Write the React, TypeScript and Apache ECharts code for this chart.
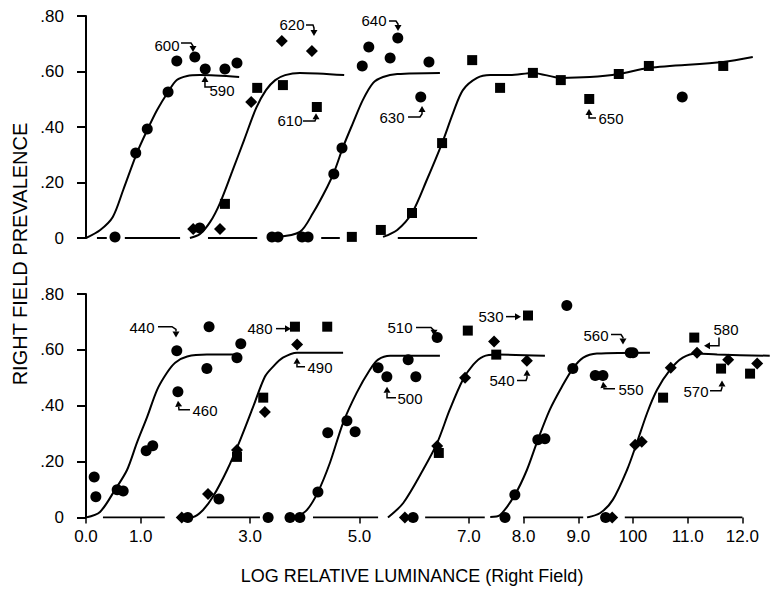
import React, { useEffect, useRef } from "react";
import * as echarts from "echarts";

// ---------- axis ticks ----------
const tickValues = [0, 1, 3, 5, 7, 8, 9, 10, 11, 12];
const tickLabels = ["0.0", "1.0", "3.0", "5.0", "7.0", "8.0", "9.0", "100", "11.0", "12.0"];

// ---------- top panel ----------
const topCurveA = [[0, 0], [0.26, 0.029], [0.49, 0.076], [0.68, 0.173], [0.93, 0.306], [1.12, 0.389], [1.3, 0.461], [1.5, 0.526], [1.66, 0.569], [1.85, 0.584], [2.08, 0.587], [2.8, 0.58]];
const topCurveB = [[1.9, 0], [2.08, 0.014], [2.27, 0.058], [2.45, 0.126], [2.67, 0.238], [2.89, 0.353], [3.11, 0.468], [3.29, 0.533], [3.46, 0.569], [3.64, 0.587], [3.91, 0.595], [4.72, 0.587]];
const topCurveC = [[3.49, 0.004], [3.91, 0.022], [4.15, 0.09], [4.41, 0.184], [4.55, 0.245], [4.7, 0.328], [4.88, 0.414], [5.06, 0.497], [5.25, 0.559], [5.43, 0.58], [5.69, 0.591], [6.47, 0.595]];
const topCurveD = [[5.43, 0.004], [5.69, 0.029], [5.96, 0.09], [6.23, 0.209], [6.51, 0.342], [6.71, 0.45], [6.89, 0.533], [7.15, 0.577], [7.39, 0.587], [7.75, 0.587], [8.17, 0.595], [8.68, 0.577], [9.21, 0.58], [9.74, 0.591], [10.29, 0.613], [11.65, 0.634], [12.19, 0.652]];

const topCircles = [[0.53, 0.004], [0.91, 0.306], [1.12, 0.393], [1.5, 0.526], [1.66, 0.638], [1.99, 0.652], [2.18, 0.609], [2.54, 0.609], [2.76, 0.631], [2.08, 0.036], [3.4, 0.004], [3.51, 0.004], [3.95, 0.004], [4.06, 0.004], [4.53, 0.231], [4.68, 0.324], [5.05, 0.62], [5.17, 0.688], [5.56, 0.649], [5.7, 0.721], [6.12, 0.508], [6.27, 0.634], [10.9, 0.508]];
const topDiamonds = [[1.96, 0.032], [2.45, 0.032], [3.02, 0.49], [3.58, 0.71], [4.13, 0.674]];
const topSquares = [[2.54, 0.123], [3.13, 0.541], [3.6, 0.551], [4.22, 0.472], [4.86, 0.004], [5.39, 0.029], [5.96, 0.09], [6.51, 0.342], [7.06, 0.641], [7.57, 0.541], [8.17, 0.595], [8.68, 0.569], [9.2, 0.501], [9.74, 0.591], [10.29, 0.62], [11.65, 0.62]];
const topBaseline = [[0.2, 0.38], [0.71, 1.72], [2.23, 3.13], [4.3, 4.64], [5.7, 7.15]];

const topNotes = [
  { label: "600", at: [1.481, 0.695], arrow: [[1.737, 0.703], [1.92, 0.703], [1.956, 0.692], [1.956, 0.67]] },
  { label: "590", at: [2.486, 0.533], arrow: [[2.285, 0.544], [2.175, 0.544], [2.175, 0.584]] },
  { label: "620", at: [3.766, 0.768], arrow: [[4.022, 0.768], [4.15, 0.768], [4.168, 0.757], [4.168, 0.728]] },
  { label: "610", at: [3.729, 0.422], arrow: [[3.967, 0.422], [4.186, 0.422], [4.205, 0.432], [4.205, 0.45]] },
  { label: "640", at: [5.265, 0.782], arrow: [[5.539, 0.782], [5.667, 0.782], [5.704, 0.771], [5.704, 0.746]] },
  { label: "630", at: [5.594, 0.436], arrow: [[5.887, 0.436], [6.106, 0.436], [6.143, 0.447], [6.143, 0.476]] },
  { label: "650", at: [9.598, 0.429], arrow: [[9.324, 0.432], [9.196, 0.432], [9.196, 0.465]] },
];

// ---------- bottom panel ----------
const botCurveA = [[0, 0], [0.256, 0.02], [0.53, 0.099], [0.75, 0.17], [0.93, 0.267], [1.12, 0.361], [1.3, 0.457], [1.48, 0.518], [1.63, 0.554], [1.85, 0.576], [2.21, 0.583], [2.82, 0.583]];
const botCurveB = [[1.77, 0], [1.96, 0.002], [2.14, 0.027], [2.32, 0.074], [2.58, 0.17], [2.82, 0.278], [3.05, 0.393], [3.27, 0.504], [3.42, 0.54], [3.6, 0.572], [3.86, 0.59], [4.7, 0.59]];
const botCurveC = [[3.86, 0.002], [4.04, 0.027], [4.24, 0.091], [4.46, 0.196], [4.7, 0.339], [4.95, 0.447], [5.19, 0.529], [5.34, 0.565], [5.56, 0.579], [6.47, 0.579]];
const botCurveD = [[5.52, 0], [5.8, 0.052], [6.16, 0.17], [6.42, 0.267], [6.65, 0.386], [6.89, 0.493], [7.08, 0.547], [7.26, 0.576], [7.51, 0.583], [8.39, 0.579]];
const botCurveE = [[7.39, 0.002], [7.57, 0.009], [7.84, 0.081], [8.06, 0.17], [8.26, 0.278], [8.48, 0.386], [8.7, 0.468], [8.9, 0.533], [9.09, 0.572], [9.34, 0.587], [10.31, 0.59]];
const botCurveF = [[9.16, 0], [9.4, 0.016], [9.63, 0.063], [9.89, 0.17], [10.07, 0.267], [10.26, 0.375], [10.44, 0.457], [10.68, 0.529], [10.91, 0.572], [11.17, 0.587], [11.54, 0.583], [12.5, 0.579]];

const botCircles = [[0.15, 0.145], [0.18, 0.074], [0.57, 0.099], [0.68, 0.095], [1.1, 0.239], [1.22, 0.257], [1.66, 0.597], [1.68, 0.45], [2.25, 0.683], [2.21, 0.533], [2.76, 0.572], [2.83, 0.622], [1.86, 0], [2.43, 0.066], [3.33, 0], [3.73, 0], [3.91, 0], [4.24, 0.091], [4.42, 0.303], [4.77, 0.346], [4.92, 0.307], [5.34, 0.536], [5.5, 0.504], [5.89, 0.565], [6.03, 0.504], [6.42, 0.644], [5.98, 0], [7.66, 0], [7.84, 0.081], [8.26, 0.278], [8.39, 0.282], [8.79, 0.759], [8.9, 0.533], [9.31, 0.508], [9.45, 0.508], [9.95, 0.59], [10.0, 0.59], [9.5, 0]];
const botDiamonds = [[1.75, 0], [2.23, 0.084], [2.76, 0.242], [3.27, 0.378], [3.86, 0.619], [5.83, 0], [6.42, 0.256], [6.93, 0.5], [7.46, 0.63], [8.06, 0.561], [9.62, 0], [10.04, 0.26], [10.16, 0.271], [10.69, 0.536], [11.17, 0.59], [11.74, 0.565], [12.27, 0.551]];
const botSquares = [[2.76, 0.217], [3.24, 0.429], [3.82, 0.683], [4.41, 0.683], [6.45, 0.231], [6.98, 0.669], [7.5, 0.583], [8.08, 0.723], [10.55, 0.429], [11.12, 0.644], [11.61, 0.533], [12.14, 0.515]];
const botBaseline = [[0.31, 1.44], [2.21, 3.18], [4.15, 5.34], [6.2, 7.29], [7.99, 9.09], [9.85, 12.0]];

const botNotes = [
  { label: "440", at: [1.024, 0.68], arrow: [[1.316, 0.683], [1.572, 0.683], [1.645, 0.673], [1.645, 0.644]] },
  { label: "460", at: [2.175, 0.382], arrow: [[1.901, 0.386], [1.7, 0.386], [1.682, 0.418]] },
  { label: "480", at: [3.181, 0.676], arrow: [[3.473, 0.676], [3.748, 0.676]] },
  { label: "490", at: [4.278, 0.536], arrow: [[4.004, 0.54], [3.857, 0.54], [3.857, 0.572]] },
  { label: "510", at: [5.74, 0.68], arrow: [[6.033, 0.68], [6.307, 0.68], [6.362, 0.669], [6.362, 0.651]] },
  { label: "500", at: [5.923, 0.425], arrow: [[5.667, 0.429], [5.503, 0.429], [5.503, 0.468]] },
  { label: "530", at: [7.404, 0.719], arrow: [[7.678, 0.719], [7.952, 0.719]] },
  { label: "540", at: [7.605, 0.49], arrow: [[7.879, 0.49], [8.044, 0.49], [8.062, 0.5], [8.062, 0.529]] },
  { label: "560", at: [9.324, 0.651], arrow: [[9.598, 0.655], [9.781, 0.655], [9.817, 0.644], [9.817, 0.619]] },
  { label: "550", at: [9.963, 0.457], arrow: [[9.671, 0.461], [9.47, 0.461], [9.452, 0.486]] },
  { label: "580", at: [11.7, 0.673], arrow: [[11.572, 0.644], [11.572, 0.615], [11.298, 0.615]] },
  { label: "570", at: [11.152, 0.45], arrow: [[11.408, 0.454], [11.609, 0.454], [11.627, 0.465], [11.627, 0.49]] },
];

const FONT = '"Liberation Sans", Arial, Helvetica, sans-serif';

function buildPanel(idx: number, curves: number[][][], circles: number[][], diamonds: number[][], squares: number[][], baseline: number[][], notes: any[]) {
  const series: any[] = [];
  curves.forEach((c) => {
    series.push({
      type: "line", xAxisIndex: idx, yAxisIndex: idx, data: c, smooth: 0.3,
      symbol: "none", lineStyle: { color: "#000", width: 2 }, silent: true, z: 2,
    });
  });
  baseline.forEach((s) => {
    series.push({
      type: "line", xAxisIndex: idx, yAxisIndex: idx, data: [[s[0], 0], [s[1], 0]],
      symbol: "none", lineStyle: { color: "#000", width: 2 }, silent: true, z: 2,
    });
  });
  const sc = (data: number[][], symbol: string, size: number) => ({
    type: "scatter", xAxisIndex: idx, yAxisIndex: idx, data, symbol, symbolSize: size,
    itemStyle: { color: "#000", opacity: 1 }, silent: true, z: 3,
  });
  series.push(sc(circles, "circle", 11));
  series.push(sc(diamonds, "diamond", 12));
  series.push(sc(squares, "rect", 10));
  series.push({
    type: "custom", xAxisIndex: idx, yAxisIndex: idx, clip: false, silent: true, z: 4,
    data: notes.map((n, i) => [n.at[0], n.at[1], i]),
    encode: { x: 0, y: 1 },
    renderItem: (params: any, api: any) => {
      const n = notes[params.dataIndex];
      const c = api.coord(n.at);
      const pts = n.arrow.map((p: number[]) => api.coord(p));
      const tip = pts[pts.length - 1];
      const prev = pts[pts.length - 2];
      const ang = Math.atan2(tip[1] - prev[1], tip[0] - prev[0]);
      const L = 6, W = 3.5;
      const bx = tip[0] - L * Math.cos(ang), by = tip[1] - L * Math.sin(ang);
      const px = -Math.sin(ang) * W, py = Math.cos(ang) * W;
      const shaft = pts.slice(0, -1).concat([[bx, by]]);
      return {
        type: "group",
        children: [
          { type: "text", style: { text: n.label, x: c[0], y: c[1], align: "center", verticalAlign: "middle", fontSize: 15, fontFamily: FONT, fill: "#000" } },
          { type: "polyline", shape: { points: shaft }, style: { stroke: "#000", lineWidth: 1.5, fill: null } },
          { type: "polygon", shape: { points: [tip, [bx + px, by + py], [bx - px, by - py]] }, style: { fill: "#000" } },
        ],
      };
    },
  });
  return series;
}

export default function App() {
  const ref = useRef<HTMLDivElement>(null);
  useEffect(() => {
    if (!ref.current) return;
    const chart = echarts.init(ref.current, null, { renderer: "svg" });
    const xMin = -0.1645, xMax = 12.5;
    const yAxisCommon = {
      type: "value", min: 0, max: 0.8, interval: 0.2,
      axisLine: { show: true, lineStyle: { color: "#000", width: 2 } },
      axisTick: { show: true, length: 9, lineStyle: { color: "#000", width: 2 } },
      splitLine: { show: false },
      axisLabel: {
        margin: 13, color: "#000", fontSize: 17, fontFamily: FONT,
        formatter: (v: number) => (v === 0 ? "0" : "." + String(Math.round(v * 100)).padStart(2, "0")),
      },
    };
    const option: any = {
      animation: false,
      backgroundColor: "#fff",
      grid: [
        { left: 77, right: 3.25, top: 16, height: 222 },
        { left: 77, right: 3.25, top: 294, height: 223.5 },
      ],
      xAxis: [
        { type: "value", gridIndex: 0, min: xMin, max: xMax, axisLine: { show: false }, axisTick: { show: false }, axisLabel: { show: false }, splitLine: { show: false } },
        {
          type: "value", gridIndex: 1, min: xMin, max: xMax,
          axisLine: { show: false },
          axisTick: { show: true, customValues: tickValues, length: 6, lineStyle: { color: "#000", width: 1.5 } },
          axisLabel: {
            customValues: tickValues, margin: 10, color: "#000", fontSize: 17, fontFamily: FONT,
            formatter: (v: number) => { const i = tickValues.indexOf(v); return i >= 0 ? tickLabels[i] : ""; },
          },
          splitLine: { show: false },
        },
      ],
      yAxis: [
        { ...yAxisCommon, gridIndex: 0 },
        { ...yAxisCommon, gridIndex: 1 },
      ],
      graphic: [
        { type: "text", x: 20, y: 254, rotation: Math.PI / 2, style: { text: "RIGHT FIELD PREVALENCE", align: "center", verticalAlign: "middle", fontSize: 20, fontFamily: FONT, fill: "#000" } },
        { type: "text", x: 412, y: 576, style: { text: "LOG RELATIVE LUMINANCE (Right Field)", align: "center", verticalAlign: "middle", fontSize: 18, fontFamily: FONT, fill: "#000" } },
      ],
      series: [
        ...buildPanel(0, [topCurveA, topCurveB, topCurveC, topCurveD], topCircles, topDiamonds, topSquares, topBaseline, topNotes),
        ...buildPanel(1, [botCurveA, botCurveB, botCurveC, botCurveD, botCurveE, botCurveF], botCircles, botDiamonds, botSquares, botBaseline, botNotes),
      ],
    };
    chart.setOption(option);
    return () => chart.dispose();
  }, []);
  return <div ref={ref} style={{ position: "fixed", left: 0, top: 0, width: 773, height: 589, background: "#fff" }} />;
}
